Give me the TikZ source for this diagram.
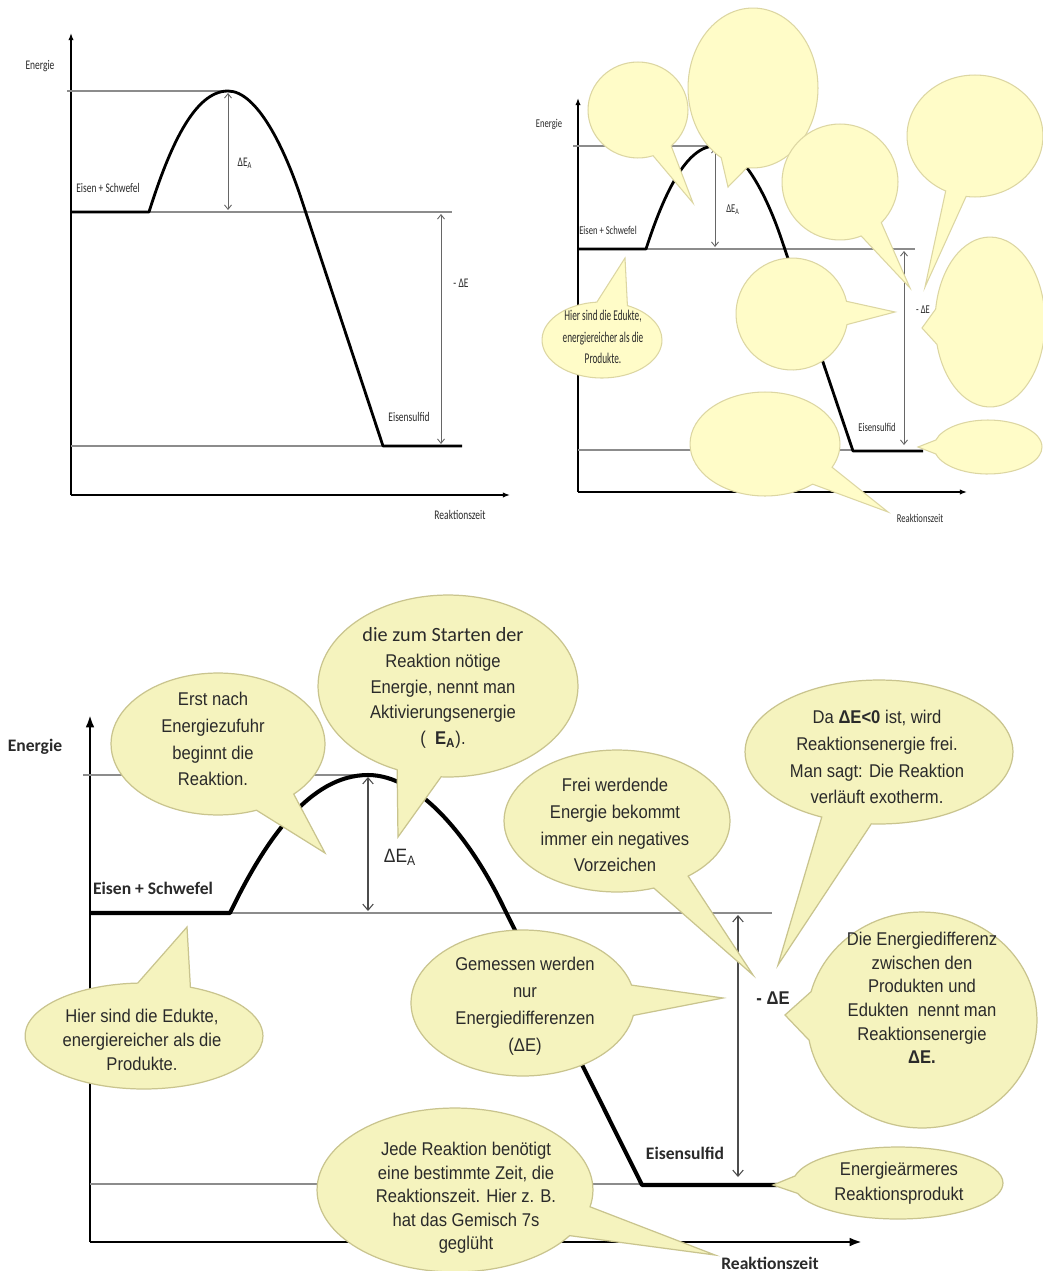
\documentclass[tikz,border=0pt]{standalone}
\usepackage{fontspec}
\setmainfont{Liberation Sans}
\newfontfamily\ari[FakeStretch=0.9]{Liberation Sans}
\newfontfamily\calB{Carlito}
\newfontfamily\calT[FakeStretch=0.72]{Carlito}
\newfontfamily\calG[FakeStretch=0.62]{Carlito}
\usetikzlibrary{shapes.callouts,arrows.meta}
\definecolor{bubfill}{HTML}{F5F3BE}
\definecolor{bubline}{HTML}{C9C48E}
\definecolor{bubfillT}{HTML}{FFFCC8}
\definecolor{bublineT}{HTML}{DCD6A2}
\definecolor{guide}{HTML}{8C8C8C}
\definecolor{txt}{HTML}{2A2A2A}
\tikzset{
  guideline/.style={draw=guide, line width=0.8pt},
  curveB/.style={line width=2.3pt, line join=round},
  curveT/.style={line width=1.6pt, line join=round},
  axisB/.style={line width=1.5pt, -{Latex[length=7pt,width=5pt]}},
  axisT/.style={line width=0.9pt, -{Latex[length=4pt,width=3pt]}},
  dblarrow/.style={draw=black!70, line width=0.6pt, {Straight Barb[length=3.5pt,width=6pt]}-{Straight Barb[length=3.5pt,width=6pt]}},
  dblarrowT/.style={draw=black!60, line width=0.5pt, {Straight Barb[length=2.5pt,width=4pt]}-{Straight Barb[length=2.5pt,width=4pt]}},
  bsize/.style 2 args={minimum width=#1*0.04cm, minimum height=#2*0.04cm},
  bub/.style={ellipse callout, draw=bubline, fill=bubfill, line width=0.7pt, callout pointer arc=24, inner sep=0pt},
  bubT/.style={ellipse callout, draw=bublineT, fill=bubfillT, line width=0.6pt, callout pointer arc=24, inner sep=0pt},
  btxt/.style={align=center, text=txt, inner sep=0pt},
  lblT/.style={font=\calT\fontsize{7.5}{9}\selectfont, text=txt, inner sep=0pt},
  lblR/.style={font=\calT\fontsize{6.8}{8}\selectfont, text=txt, inner sep=0pt},
  lblB/.style={font=\calB\bfseries\fontsize{10}{12}\selectfont, text=txt, inner sep=0pt},
}
\begin{document}
\begin{tikzpicture}[x=0.02cm,y=-0.02cm]
\useasboundingbox[fill=white] (0,0) rectangle (1043,1271);

% ================= TOP LEFT =================
\coordinate (tlO) at (71,495);
\coordinate (tlY) at (71,33);
\coordinate (tlX) at (510,495);
\draw[axisT] (tlO) -- (tlY);
\draw[axisT] (tlO) -- (tlX);
\draw[guideline] (67,91) -- (228,91);
\draw[guideline] (149,212) -- (452,212);
\draw[guideline] (71,446) -- (383,446);
\draw[curveT] (71,212) -- (149,212) .. controls (169,148.5) and (194,91) .. (228,91)
  .. controls (257,91) and (285,148.5) .. (302,201) -- (383,446) -- (462,446);
\coordinate (tlA1) at (228,93); \coordinate (tlA2) at (228,210);
\coordinate (tlE1) at (441,214); \coordinate (tlE2) at (441,444);
\draw[dblarrowT] (tlA1) -- (tlA2);
\draw[dblarrowT] (tlE1) -- (tlE2);
\node[lblT] (tlen) at (40,66) {Energie};
\node[lblT] (tles) at (108,188) {Eisen + Schwefel};
\node[lblT] (tlea) at (245,163) {ΔE\textsubscript{A}};
\node[lblT] (tlde) at (461,283) {- ΔE};
\node[lblT] (tlsu) at (409,417) {Eisensulfid};
\node[lblT] (tlrz) at (460,515) {Reaktionszeit};

% ================= TOP RIGHT =================
\coordinate (trO) at (578,492);
\coordinate (trY) at (578,98);
\coordinate (trX) at (967,492);
\draw[axisT] (trO) -- (trY);
\draw[axisT] (trO) -- (trX);
\draw[guideline] (573,146) -- (715,146);
\draw[guideline] (646,249) -- (915,249);
\draw[guideline] (578,450) -- (853,450);
\draw[curveT] (578,249) -- (646,249) .. controls (663.6,194.6) and (686.2,146) .. (715,146)
  .. controls (741.4,146) and (766.5,194.6) .. (781.5,239.3) -- (853,451) -- (923,451);
\coordinate (trA1) at (715,148); \coordinate (trA2) at (715,247);
\coordinate (trE1) at (904,251); \coordinate (trE2) at (904,445);
\draw[dblarrowT] (trA1) -- (trA2);
\draw[dblarrowT] (trE1) -- (trE2);
\node[lblR] (tren) at (549,124) {Energie};
\node[lblR] (tres) at (608,230) {Eisen + Schwefel};
\node[lblR] (trea) at (733,210) {ΔE\textsubscript{A}};
\node[lblR] (trde) at (923,310) {- ΔE};
\node[lblR] (trsu) at (877,427) {Eisensulfid};
\node[lblR] (trrz) at (920,518) {Reaktionszeit};

% top-right bubbles
\node[bubT, bsize={50}{48}, callout absolute pointer={(693,203)}] (tA) at (638,110) {};
\node[bubT, bsize={65}{80}, callout absolute pointer={(728,187)}] (tB) at (753,88) {};
\node[bubT, bsize={58}{58}, callout absolute pointer={(910,288)}] (tC) at (840,182) {};
\node[bubT, bsize={68}{61}, callout absolute pointer={(925,287)}, callout pointer arc=18] (tD) at (975,136) {};
\node[bubT, bsize={56}{56}, callout absolute pointer={(895,312)}] (tE) at (792,314) {};
\node[bubT, bsize={55}{85}, callout absolute pointer={(922,328)}] (tF) at (990,322) {};
\node[bubT, bsize={60}{38}, callout absolute pointer={(625,258)}, callout pointer arc=30] (tG) at (602,340) {};
\node[btxt, font=\calG\fontsize{8.5}{12.4}\selectfont] (tGt) at (603,337) {Hier sind die Edukte,\\energiereicher als die\\Produkte.};
\node[bubT, bsize={75}{52}, callout absolute pointer={(888,512)}] (tH) at (765,444) {};
\node[bubT, bsize={54}{27}, callout absolute pointer={(918,447)}, callout pointer arc=30] (tI) at (988,447) {};

% ================= BOTTOM =================
\coordinate (bO) at (90,1242);
\coordinate (bY) at (90,715);
\coordinate (bX) at (862,1242);
\draw[axisB] (bO) -- (bY);
\draw[axisB] (bO) -- (bX);
\draw[guideline] (83,775) -- (368,775);
\draw[guideline] (230,913) -- (772,913);
\draw[guideline] (90,1184) -- (642,1184);
\draw[curveB] (90,913) -- (230,913) .. controls (265,840) and (310,775) .. (368,775)
  .. controls (420,775) and (470,840) .. (500,900) -- (642,1185) -- (777,1185);
\coordinate (bA1) at (368,777); \coordinate (bA2) at (368,911);
\coordinate (bE1) at (738,915); \coordinate (bE2) at (738,1177);
\draw[dblarrow] (bA1) -- (bA2);
\draw[dblarrow] (bE1) -- (bE2);
\node[lblB] (ben) at (35,747) {Energie};
\node[lblB] (bes) at (153,888) {Eisen + Schwefel};
\node[text=txt, inner sep=0pt, font=\ari\fontsize{11}{13}\selectfont] (bea) at (400,857) {ΔE\textsubscript{A}};
\node[text=txt, inner sep=0pt, font=\ari\bfseries\fontsize{10.5}{13}\selectfont] (bde) at (773,998) {- ΔE};
\node[lblB] (bsu) at (685,1153) {Eisensulfid};
\node[lblB] (brz) at (770,1263) {Reaktionszeit};

% bottom bubbles
\node[bub, bsize={107}{71}, callout absolute pointer={(325,853)}] (b1) at (218,744) {};
\node[btxt, font=\ari\fontsize{10.5}{15.3}\selectfont] (b1t) at (213,739) {Erst nach\\Energiezufuhr\\beginnt die\\Reaktion.};

\node[bub, bsize={130}{91}, callout absolute pointer={(398,837)}, callout pointer arc=20] (b2) at (448,686) {};
\node[btxt, font=\ari\fontsize{10.5}{14.6}\selectfont] (b2t) at (443,688) {{\calB\fontsize{11.5}{14.6}\selectfont die zum Starten der}\\Reaktion nötige\\Energie, nennt man\\Aktivierungsenergie\\(\enspace\textbf{E\textsubscript{A}}).};

\node[bub, bsize={113}{71}, callout absolute pointer={(753,975)}, callout pointer arc=20] (b3) at (617,821) {};
\node[btxt, font=\ari\fontsize{10.5}{15.3}\selectfont] (b3t) at (615,825) {Frei werdende\\Energie bekommt\\immer ein negatives\\Vorzeichen};

\node[bub, bsize={134}{72}, callout absolute pointer={(778,965)}, callout pointer arc=22] (b4) at (879,752) {};
\node[btxt, font=\ari\fontsize{10.5}{15.3}\selectfont] (b4t) at (877,757) {Da \textbf{ΔE<0} ist, wird\\Reaktionsenergie frei.\\Man sagt: Die Reaktion\\verläuft exotherm.};

\node[bub, bsize={115}{108}, callout absolute pointer={(785,1015)}, callout pointer arc=26] (b5) at (922,1020) {};
\node[btxt, font=\ari\fontsize{10.5}{13.4}\selectfont] (b5t) at (922,998) {Die Energiedifferenz\\zwischen den\\Produkten und\\Edukten~ nennt man\\Reaktionsenergie\\\textbf{ΔE.}};

\node[bub, bsize={112}{73}, callout absolute pointer={(723,998)}, callout pointer arc=24] (b6) at (523,1003) {};
\node[btxt, font=\ari\fontsize{10.5}{15.3}\selectfont] (b6t) at (525,1006) {Gemessen werden\\nur\\Energiedifferenzen\\(ΔE)};

\node[bub, bsize={119}{53}, callout absolute pointer={(187,927)}, callout pointer arc=26] (b7) at (144,1036) {};
\node[btxt, font=\ari\fontsize{10.5}{13.6}\selectfont] (b7t) at (142,1040) {Hier sind die Edukte,\\energiereicher als die\\Produkte.};

\node[bub, bsize={138}{82}, callout absolute pointer={(715,1255)}, callout pointer arc=22] (b8) at (455,1190) {};
\node[btxt, font=\ari\fontsize{10.5}{13.4}\selectfont] (b8t) at (466,1198) {Jede Reaktion benötigt\\eine bestimmte Zeit, die\\Reaktionszeit. Hier z. B.\\hat das Gemisch 7s\\geglüht};

\node[bub, bsize={105}{36}, callout absolute pointer={(773,1185)}, callout pointer arc=28] (b9) at (898,1183) {};
\node[btxt, font=\ari\fontsize{10.5}{14.2}\selectfont] (b9t) at (899,1183) {Energieärmeres\\Reaktionsprodukt};
\end{tikzpicture}
\end{document}
